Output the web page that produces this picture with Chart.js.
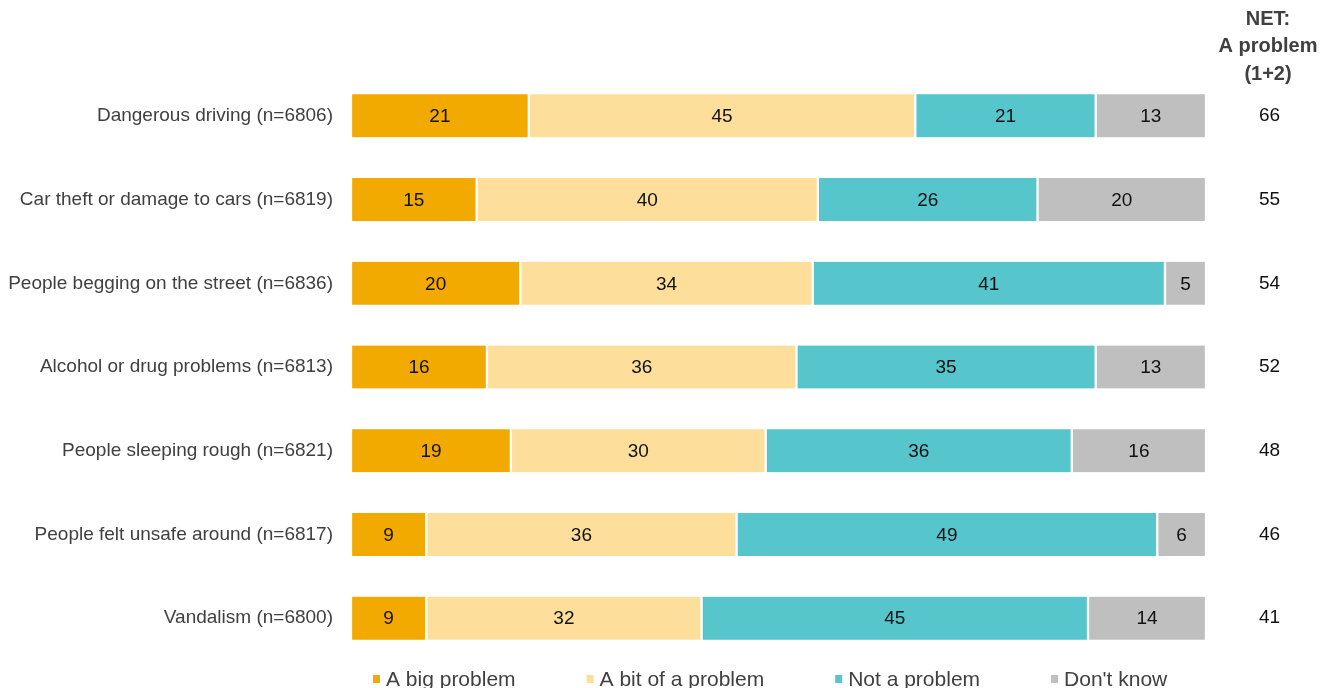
<!DOCTYPE html>
<html>
<head>
<meta charset="utf-8">
<script src="https://cdn.jsdelivr.net/npm/chart.js@4.4.1/dist/chart.umd.min.js"></script>
<style>
  html, body { margin: 0; padding: 0; background: #ffffff; }
  #wrap { position: relative; width: 1338px; height: 688px; }
</style>
</head>
<body>
<div id="wrap"><canvas id="c"></canvas></div>
<script>
// ---- data ----
const categories = [
  "Dangerous driving (n=6806)",
  "Car theft or damage to cars (n=6819)",
  "People begging on the street (n=6836)",
  "Alcohol or drug problems (n=6813)",
  "People sleeping rough (n=6821)",
  "People felt unsafe around (n=6817)",
  "Vandalism (n=6800)"
];
const seriesNames = ["A big problem", "A bit of a problem", "Not a problem", "Don't know"];
const bigProblem = [20.8, 14.7, 19.8, 15.9, 18.7, 8.8, 8.8];
const bitProblem = [45.2, 39.9, 34.2, 36.2, 29.8, 36.3, 32.2];
const notProblem = [21.1, 25.7, 41.2, 35.0, 35.8, 49.2, 45.2];
const dontKnow   = [12.9, 19.7, 4.8, 12.9, 15.7, 5.7, 13.8];
const netProblem = [66, 55, 54, 52, 48, 46, 41];
const netHeader = ["NET:", "A problem", "(1+2)"];

// ---- style ----
const colors = ["#F2A900", "#FDDF9B", "#56C5CC", "#BFBFBF"];
const FONT = "'Liberation Sans', Arial, sans-serif";
const TEXT = "#404040";

const seriesData = [bigProblem, bitProblem, notProblem, dontKnow];

const datasets = seriesNames.map((name, i) => ({
  label: name,
  data: seriesData[i],
  backgroundColor: colors[i],
  borderColor: "#ffffff",
  borderWidth: { left: 1.5, right: 1.5, top: 0, bottom: 0 },
  borderSkipped: false,
  barThickness: 43,
  yAxisID: "y"
}));

const valueLabels = {
  id: "valueLabels",
  afterDatasetsDraw(chart) {
    const ctx = chart.ctx;
    ctx.save();
    ctx.font = "19px " + FONT;
    ctx.fillStyle = "#111111";
    ctx.textAlign = "center";
    ctx.textBaseline = "middle";
    chart.data.datasets.forEach((ds, di) => {
      const meta = chart.getDatasetMeta(di);
      meta.data.forEach((el, i) => {
        const p = el.getCenterPoint();
        ctx.fillText(String(Math.round(ds.data[i])), p.x, p.y + 1);
      });
    });
    ctx.restore();
  }
};

const headerAndLegend = {
  id: "headerAndLegend",
  afterDraw(chart) {
    const ctx = chart.ctx;
    ctx.save();
    // NET header
    ctx.font = "bold 20px " + FONT;
    ctx.fillStyle = TEXT;
    ctx.textAlign = "center";
    ctx.textBaseline = "middle";
    const hx = 1268;
    netHeader.forEach((t, i) => ctx.fillText(t, hx, 19 + i * 27.5));
    // legend
    ctx.font = "21px " + FONT;
    ctx.textAlign = "left";
    let x = 373;
    const ly = 679;
    seriesNames.forEach((name, i) => {
      ctx.fillStyle = colors[i];
      ctx.fillRect(x, ly - 4, 7, 8);
      ctx.fillStyle = TEXT;
      ctx.fillText(name, x + 13, ly + 1);
      x = x + 13 + ctx.measureText(name).width + 71;
    });
    ctx.restore();
  }
};

new Chart(document.getElementById("c"), {
  type: "bar",
  data: { labels: categories, datasets },
  options: {
    indexAxis: "y",
    responsive: true,
    maintainAspectRatio: false,
    animation: false,
    layout: { padding: { top: 74, bottom: 28, left: 0, right: 0 } },
    plugins: {
      legend: { display: false },
      tooltip: { enabled: false },
      title: { display: false }
    },
    scales: {
      x: {
        display: false,
        stacked: true,
        min: 0,
        max: 100
      },
      y: {
        stacked: true,
        position: "left",
        offset: true,
        grid: { display: false, drawTicks: false },
        border: { display: false },
        ticks: { color: TEXT, font: { family: FONT, size: 19 }, padding: 18 },
        afterFit(scale) { scale.width = 351; scale.paddingTop = 0; scale.paddingBottom = 0; }
      },
      y2: {
        type: "category",
        position: "right",
        labels: netProblem.map(String),
        offset: true,
        grid: { display: false, drawTicks: false },
        border: { display: false },
        ticks: { color: "#111111", font: { family: FONT, size: 19 }, padding: 53, crossAlign: "near" },
        afterFit(scale) { scale.width = 132; scale.paddingTop = 0; scale.paddingBottom = 0; }
      }
    }
  },
  plugins: [valueLabels, headerAndLegend]
});
</script>
</body>
</html>
